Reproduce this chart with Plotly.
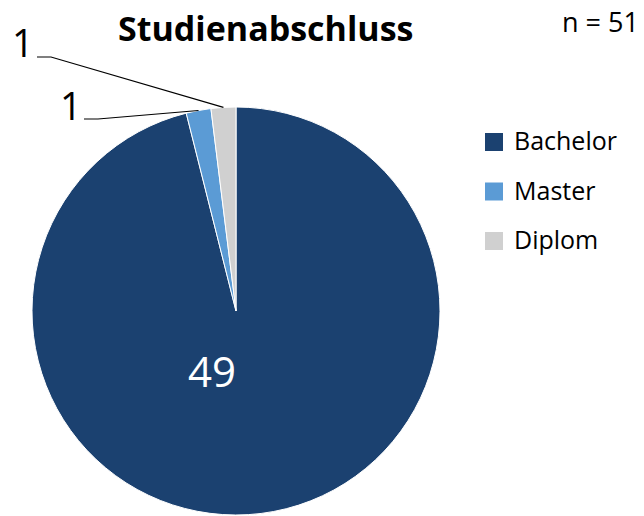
import math
import plotly.graph_objects as go

labels = ["Bachelor", "Master", "Diplom"]
values = [49, 1, 1]
colors = ["#1B4170", "#5B9BD5", "#D0D0D0"]
n_total = sum(values)
title_text = "Studienabschluss"

W, H = 644, 516
FONT = "Open Sans, Roboto, sans-serif"

# pie geometry (pixels)
cx, cy, r = 236, 311, 204

fig = go.Figure(go.Pie(
    labels=labels, values=values, sort=False, direction="clockwise", rotation=0,
    marker=dict(colors=colors, line=dict(color="white", width=1)),
    textinfo="none", hoverinfo="label+value", showlegend=False,
    domain=dict(x=[(cx - r) / W, (cx + r) / W], y=[1 - (cy + r) / H, 1 - (cy - r) / H]),
))

def px(x):
    return x / W

def py(y):
    return 1 - y / H

annotations = []
shapes = []

def ann(x, y, text, size, color="black", xanchor="center"):
    annotations.append(dict(x=px(x), y=py(y), xref="paper", yref="paper", text=text,
                            showarrow=False, xanchor=xanchor, yanchor="middle",
                            font=dict(family=FONT, size=size, color=color)))

# inside label for the big slice
ann(212, 370, str(values[0]), 42, color="white")

# outside labels with leader lines for small slices
label_pos = {1: (71, 105), 2: (23, 42)}
line_start = {1: (84, 119), 2: (37, 57)}
cum = 0
for i, v in enumerate(values):
    mid = (cum + v / 2) / n_total * 2 * math.pi
    cum += v
    if i == 0:
        continue
    ex = cx + r * math.sin(mid)
    ey = cy - r * math.cos(mid)
    lx, ly = label_pos[i]
    sx, sy = line_start[i]
    ann(lx, ly, str(v), 38)
    shapes.append(dict(type="path", xref="paper", yref="paper",
                       path=f"M {px(sx)} {py(sy)} L {px(sx + 14)} {py(sy)} L {px(ex)} {py(ey)}",
                       line=dict(color="black", width=1.2)))

# title and n
ann(265, 28, f"<b>{title_text}</b>", 34)
ann(641, 22, f"n = {n_total}", 27, xanchor="right")

# legend
for i, (lab, col) in enumerate(zip(labels, colors)):
    y0 = 133 + i * 49.5
    shapes.append(dict(type="rect", xref="paper", yref="paper", x0=px(485), x1=px(503),
                       y0=py(y0 + 18), y1=py(y0), fillcolor=col, line=dict(width=0)))
    ann(512, y0 + 7, lab, 25, xanchor="left")

fig.update_layout(
    width=W, height=H, margin=dict(l=0, r=0, t=0, b=0),
    paper_bgcolor="white", plot_bgcolor="white",
    annotations=annotations, shapes=shapes,
)

fig.write_html("out.html")
